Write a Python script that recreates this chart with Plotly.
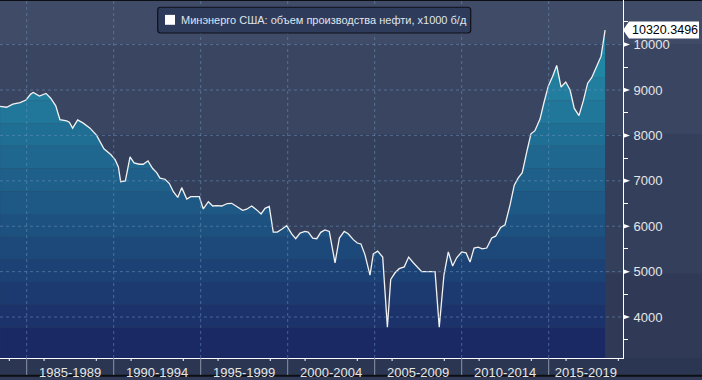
import numpy as np
import plotly.graph_objects as go

# ---------------- data ----------------
years = [1983.47, 1983.85, 1984.20, 1984.62, 1984.96, 1985.23, 1985.38, 1985.73, 1986.11, 1986.38,
         1986.67, 1986.91, 1987.30, 1987.45, 1987.64, 1987.93, 1988.25, 1988.64, 1989.02, 1989.25,
         1989.44, 1989.83, 1990.08, 1990.27, 1990.40, 1990.67, 1990.94, 1991.17, 1991.47, 1991.70,
         1991.97, 1992.24, 1992.47, 1992.66, 1992.95, 1993.20, 1993.43, 1993.68, 1993.91, 1994.20,
         1994.43, 1994.92, 1995.15, 1995.44, 1995.69, 1995.92, 1996.21, 1996.53, 1996.78, 1997.07,
         1997.41, 1997.64, 1997.93, 1998.22, 1998.47, 1998.70, 1998.94, 1999.17, 1999.40, 1999.66,
         1999.94, 2000.23, 2000.46, 2000.71, 2000.99, 2001.18, 2001.44, 2001.67, 2001.90, 2002.14,
         2002.39, 2002.72, 2002.97, 2003.25, 2003.48, 2003.77, 2004.00, 2004.21, 2004.44, 2004.73,
         2004.92, 2005.17, 2005.46, 2005.73, 2005.92, 2006.17, 2006.41, 2006.70, 2006.95, 2007.22,
         2007.45, 2007.70, 2008.06, 2008.47, 2008.71, 2008.98, 2009.23, 2009.48, 2009.71, 2010.00,
         2010.25, 2010.48, 2010.71, 2010.95, 2011.18, 2011.44, 2011.73, 2011.95, 2012.24, 2012.49,
         2012.78, 2013.02, 2013.25, 2013.48, 2013.74, 2013.98, 2014.21, 2014.50, 2014.73, 2014.98,
         2015.23, 2015.46, 2015.71, 2015.98, 2016.23, 2016.47, 2016.74, 2016.99, 2017.24, 2017.47,
         2017.76, 2018.01, 2018.24]

values = [8640, 8620, 8690, 8720, 8780, 8910, 8945, 8865, 8925, 8820,
          8650, 8345, 8320, 8290, 8160, 8340, 8270, 8160, 8000, 7855,
          7705, 7580, 7465, 7305, 6980, 7000, 7525, 7395, 7365, 7365,
          7440, 7270, 7180, 7060, 7035, 6940, 6760, 6635, 6850, 6600,
          6650, 6650, 6380, 6540, 6445, 6455, 6445, 6500, 6505, 6435,
          6350, 6375, 6445, 6360, 6270, 6395, 6435, 5870, 5870, 5935,
          6010, 5830, 5725, 5850, 5885, 5870, 5740, 5725, 5865, 5920,
          5885, 5195, 5740, 5885, 5835, 5705, 5630, 5610, 5375, 4925,
          5390, 5450, 5320, 3775, 4830, 4975, 5065, 5105, 5320, 5195,
          5105, 5000, 5000, 5000, 3775, 4925, 5435, 5125, 5305, 5435,
          5415, 5210, 5520, 5540, 5500, 5520, 5740, 5780, 5975, 6030,
          6470, 6905, 7065, 7180, 7635, 8035, 8105, 8360, 8725, 9090,
          9305, 9540, 9065, 9175, 9000, 8595, 8435, 8760, 9150, 9270,
          9525, 9745, 10320.3496]

period_starts = [1985, 1990, 1995, 2000, 2005, 2010, 2015]
period_labels = ["1985-1989", "1990-1994", "1995-1999", "2000-2004",
                 "2005-2009", "2010-2014", "2015-2019"]
y_ticks = [4000, 5000, 6000, 7000, 8000, 9000, 10000]
y_tick_labels = ["4000", "5000", "6000", "7000", "8000", "9000", "10000"]
y_minor_ticks = [3500, 4500, 5500, 6500, 7500, 8500, 9500, 10500]
last_value_text = "10320.3496"
series_name = "Минэнерго США: объем производства нефти, x1000 б/д"

# ---------------- layout geometry ----------------
W, H = 702, 380
ML, MR, MT, MB = 0, 79, 0, 19
PW, PH = W - ML - MR, H - MT - MB
X0, X1 = 1983.466, 1983.466 + PW / 17.4
Y0, Y1 = 3098, 10982
FONT = "Liberation Sans, Arial, sans-serif"


def pxx(p):
    return p / PW


def pyy(p):
    return 1 - p / PH


vals = np.array(values, dtype=float)
vmax = vals.max()

# banded gradient fill
bounds = [3770 + 500 * k for k in range(14)] + [vmax + 1]
c_bot = np.array([26, 36, 96])
c_top = np.array([34, 146, 173])


def band_color(lo, hi):
    m = (lo + hi) / 2
    t = min(max((m - Y0) / (vmax - Y0), 0), 1)
    c = c_bot + (c_top - c_bot) * t
    return "rgb(%d,%d,%d)" % tuple(int(round(v)) for v in c)


fig = go.Figure()
lo = Y0
for i, b in enumerate(bounds):
    fig.add_trace(go.Scatter(
        x=years, y=np.minimum(vals, b), mode="lines",
        line=dict(width=0), fill="tozeroy" if i == 0 else "tonexty",
        fillcolor=band_color(lo, b), hoverinfo="skip", showlegend=False))
    lo = b

fig.add_trace(go.Scatter(x=years, y=values, mode="lines",
                         line=dict(color="#f2f2f2", width=1.3),
                         name=series_name, showlegend=False, hoverinfo="skip"))

shapes = []
# background bands (full width)
xr = W / PW
for a, b, c in [(0, 45, "#404b68"), (45, 136, "#3a4562"), (136, 276, "#343f5b"),
                (276, PH, "#303a56"), (PH, 378, "#2b3752"), (378, 380, "#0c0f14"),
                (0, 1, "#0c0f14")]:
    shapes.append(dict(type="rect", xref="paper", yref="paper", x0=0, x1=xr,
                       y0=pyy(a), y1=pyy(b), fillcolor=c, line=dict(width=0),
                       layer="below"))

grid_col = "rgba(105,145,185,0.55)"
for v in y_ticks:
    shapes.append(dict(type="line", xref="paper", yref="y", x0=0, x1=1, y0=v, y1=v,
                       line=dict(color=grid_col, width=1, dash="dot"), layer="above"))
for s in period_starts:
    shapes.append(dict(type="line", xref="x", yref="paper", x0=s, x1=s, y0=0, y1=1,
                       line=dict(color=grid_col, width=1, dash="dot"), layer="above"))
    # period separators below the axis
    shapes.append(dict(type="line", xref="x", yref="paper", x0=s, x1=s, y0=0,
                       y1=-17 / PH, line=dict(color="#8a93a7", width=1)))

# small year ticks under x axis
for s in [1980] + period_starts:
    for d in (1, 4):
        yr = s + d
        if X0 < yr < X1:
            shapes.append(dict(type="line", xref="x", yref="paper", x0=yr, x1=yr,
                               y0=0, y1=-3 / PH, line=dict(color="white", width=1)))

# triangle tick markers on y axis
for v in y_ticks:
    shapes.append(dict(type="path", xref="paper", yref="y", xsizemode="pixel",
                       ysizemode="pixel", xanchor=1, yanchor=v,
                       path="M0,-2.5 L7,0 L0,2.5 Z", fillcolor="white",
                       line=dict(width=0)))

# last value box
shapes.append(dict(type="path", xref="paper", yref="y", xsizemode="pixel",
                   ysizemode="pixel", xanchor=1, yanchor=values[-1],
                   path="M0,0 L6,-8.5 L76,-8.5 L76,8.5 L6,8.5 Z",
                   fillcolor="white", line=dict(width=0)))

# legend box
lx0, lx1, ly0, ly1 = pxx(157.7), pxx(470.7), pyy(7.3), pyy(33.3)
rx, ry = 3 / PW, 3 / PH
legend_path = (f"M{lx0+rx},{ly0} L{lx1-rx},{ly0} Q{lx1},{ly0} {lx1},{ly0-ry} "
               f"L{lx1},{ly1+ry} Q{lx1},{ly1} {lx1-rx},{ly1} L{lx0+rx},{ly1} "
               f"Q{lx0},{ly1} {lx0},{ly1+ry} L{lx0},{ly0-ry} Q{lx0},{ly0} {lx0+rx},{ly0} Z")
shapes.append(dict(type="path", xref="paper", yref="paper", path=legend_path,
                   fillcolor="#2f3b5a", line=dict(color="#0e1118", width=1.2)))
shapes.append(dict(type="rect", xref="paper", yref="paper", x0=pxx(165), x1=pxx(175),
                   y0=pyy(15), y1=pyy(25), fillcolor="white", line=dict(width=0)))

annotations = [
    dict(xref="paper", yref="paper", x=pxx(179), y=pyy(20.5), xanchor="left",
         yanchor="middle", text=series_name, showarrow=False,
         font=dict(family=FONT, size=11, color="#dfe5ee")),
    dict(xref="paper", yref="y", x=1 + 7 / PW, y=values[-1], xanchor="left",
         yanchor="middle", text=last_value_text, showarrow=False,
         font=dict(family=FONT, size=12.5, color="black")),
]

label_centers = [(s + min(s + 5, X1)) / 2 for s in period_starts]

fig.update_layout(
    width=W, height=H,
    margin=dict(l=ML, r=MR, t=MT, b=MB, pad=0),
    paper_bgcolor="#303a56", plot_bgcolor="rgba(0,0,0,0)",
    showlegend=False,
    shapes=shapes, annotations=annotations,
    xaxis=dict(range=[X0, X1], showgrid=False, zeroline=False, showline=True,
               linecolor="white", linewidth=1, tickmode="array",
               tickvals=label_centers, ticktext=period_labels,
               ticks="outside", ticklen=2, tickcolor="rgba(0,0,0,0)",
               tickfont=dict(family=FONT, size=13, color="#e6e6e6")),
    yaxis=dict(range=[Y0, Y1], side="right", showgrid=False, zeroline=False,
               showline=True, linecolor="white", linewidth=1, tickmode="array",
               tickvals=y_ticks, ticktext=y_tick_labels, ticks="outside", ticklen=7,
               tickcolor="rgba(0,0,0,0)",
               tickfont=dict(family=FONT, size=13, color="#e6e6e6"),
               minor=dict(tickmode="array", tickvals=y_minor_ticks, ticks="outside",
                          ticklen=4, tickcolor="white", showgrid=False)),
)

fig.write_html("out.html", config={"displayModeBar": False},
               post_script="document.body.style.margin='0';")
